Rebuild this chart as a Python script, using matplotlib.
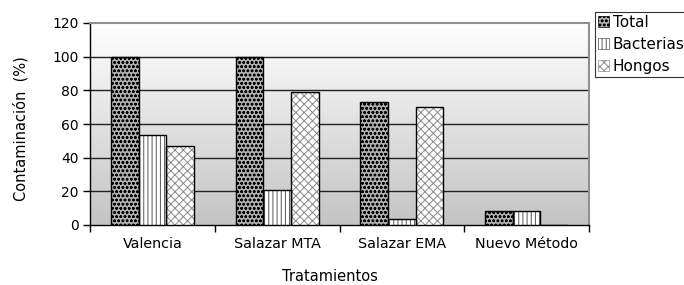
import numpy as np
import matplotlib.pyplot as plt
from matplotlib.colors import LinearSegmentedColormap
from matplotlib.patches import Patch

categorias = ["Valencia", "Salazar MTA", "Salazar EMA", "Nuevo Método"]
total = [100, 100, 73.3, 8.6]
bacterias = [53.3, 21, 3.3, 8.6]
hongos = [46.7, 79, 70, 0]

plt.rcParams['font.family'] = ['DejaVu Sans']
plt.rcParams['hatch.linewidth'] = 0.7

fig = plt.figure(figsize=(6.84, 2.85), dpi=100)
ax = fig.add_axes([90/684, 1-225/285, 499/684, 202/285])

# fondo degradado
grad = np.linspace(1, 0, 256).reshape(-1, 1)
cmap = LinearSegmentedColormap.from_list("g", ["#c4c4c4", "#ffffff"])
ax.imshow(grad, cmap=cmap, aspect='auto', extent=(0, 4, 0, 120),
          zorder=0, vmin=0, vmax=1)

x = np.arange(len(categorias)) + 0.5
w = 0.222
estilos = [
    (total, "#b0b0b0", "oooo", "#000000"),
    (bacterias, "#ffffff", "||||", "#555555"),
    (hongos, "#ffffff", "xxxx", "#8a8a8a"),
]
nombres = ["Total", "Bacterias", "Hongos"]
handles = []
for i, (vals, fc, hatch, hc) in enumerate(estilos):
    pos = x + (i - 1) * w
    vals = np.array(vals)
    ax.bar(pos, vals, w, color=fc, hatch=hatch, edgecolor=hc, linewidth=0, zorder=3)
    ax.bar(pos, vals, w, fill=False, edgecolor="black", linewidth=1, zorder=4)
    handles.append(Patch(facecolor=fc, hatch=hatch, edgecolor=hc, linewidth=0.5))

ax.set_xlim(0, 4)
ax.set_ylim(0, 120)
ax.set_yticks(range(0, 121, 20))
ax.set_xticks(range(0, 5))
ax.set_xticklabels([])
ax.set_xticks(x, minor=True)
ax.set_xticklabels(categorias, minor=True, fontsize=10.3)
ax.tick_params(axis='x', which='minor', length=0, pad=9)
ax.tick_params(axis='x', which='major', length=5, direction='out', width=1)
ax.tick_params(axis='y', length=5, direction='out', width=1, labelsize=10, pad=3)

for yv in range(20, 120, 20):
    ax.axhline(yv, color="#222222", linewidth=1, zorder=1)

ax.spines['left'].set_color('black')
ax.spines['bottom'].set_color('black')
ax.spines['left'].set_linewidth(1)
ax.spines['bottom'].set_linewidth(1)
ax.spines['top'].set_color('#909090')
ax.spines['right'].set_color('#909090')
ax.spines['top'].set_linewidth(1.5)
ax.spines['right'].set_linewidth(1.5)

ax.set_ylabel("Contaminación  (%)", fontsize=10.5)
ax.yaxis.set_label_coords(-(90 - 29)/499, (225 - 129)/202)
ax.set_xlabel("Tratamientos", fontsize=10.5)
ax.xaxis.set_label_coords((330 - 90)/499, -(269 - 225)/202)

leg = fig.legend(handles, nombres, loc='upper left', bbox_to_anchor=(595/684, 1-12/285),
                 fontsize=11, frameon=True, fancybox=False, edgecolor='black',
                 handlelength=0.7, handleheight=0.7, handletextpad=0.25,
                 borderpad=0.2, labelspacing=0.45, borderaxespad=0)
leg.get_frame().set_linewidth(0.8)

fig.savefig("out.png", dpi=100)
